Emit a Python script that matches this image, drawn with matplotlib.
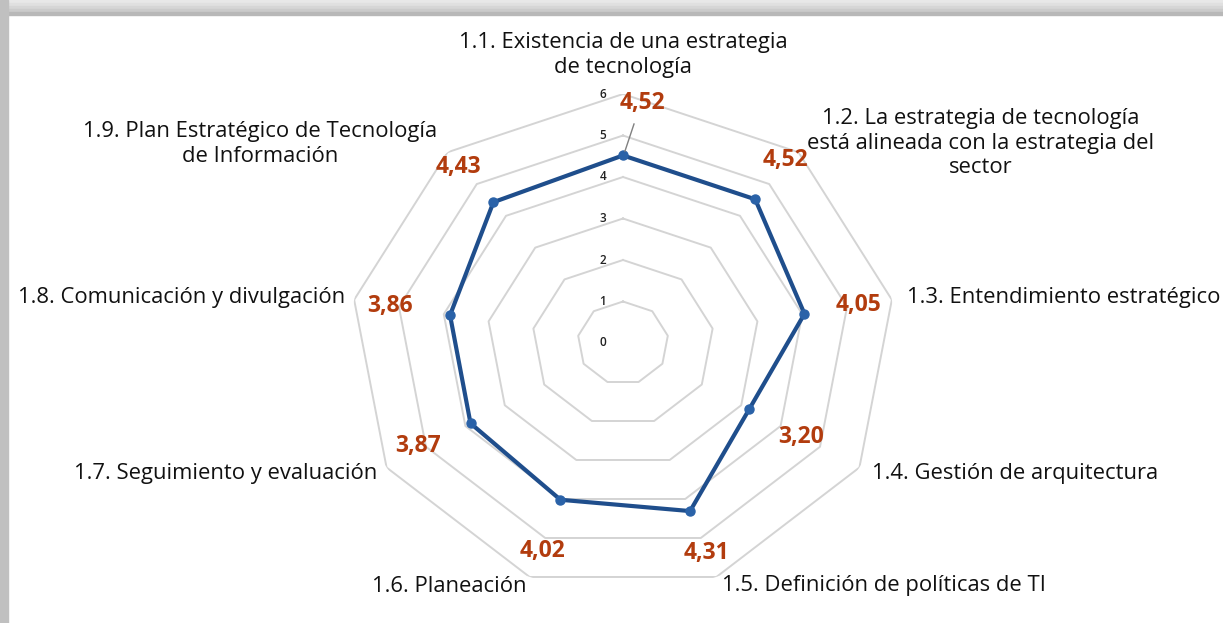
import numpy as np
import matplotlib.pyplot as plt
from matplotlib.patches import Rectangle

categories = [
    "1.1. Existencia de una estrategia\nde tecnología",
    "1.2. La estrategia de tecnología\nestá alineada con la estrategia del\nsector",
    "1.3. Entendimiento estratégico",
    "1.4. Gestión de arquitectura",
    "1.5. Definición de políticas de TI",
    "1.6. Planeación",
    "1.7. Seguimiento y evaluación",
    "1.8. Comunicación y divulgación",
    "1.9. Plan Estratégico de Tecnología\nde Información",
]
values = [4.52, 4.52, 4.05, 3.20, 4.31, 4.02, 3.87, 3.86, 4.43]
ticks = [0, 1, 2, 3, 4, 5, 6]

W, H = 1223, 623
plt.rcParams["font.family"] = ["Open Sans", "DejaVu Sans"]

fig = plt.figure(figsize=(W / 100, H / 100), dpi=100)

# screenshot frame (gray shadow at top and left)
for i, c in enumerate(["#e8e8e8", "#e0e0e0", "#d6d6d6", "#cbcbcb", "#b8b8b8"]):
    fig.patches.append(Rectangle((0, 1 - (i + 1) * 3 / H), 1, 3 / H, transform=fig.transFigure,
                                 color=c, zorder=0))
fig.patches.append(Rectangle((0, 0), 8 / W, 1, transform=fig.transFigure, color="#c0c0c0", zorder=0))

# the reference is slightly stretched horizontally
cx, cy, rx, ry = 623, 343, 273, 249
ax = fig.add_axes([(cx - rx) / W, (H - cy - ry) / H, 2 * rx / W, 2 * ry / H], projection="polar")
ax.set_aspect("auto")
ax.set_theta_offset(np.pi / 2)
ax.set_theta_direction(-1)
ax.set_ylim(0, 6)
ax.axis("off")

n = len(values)
angles = np.linspace(0, 2 * np.pi, n, endpoint=False)
ang_closed = np.append(angles, angles[0])

# polygon grid rings
for t in ticks[1:]:
    ax.plot(ang_closed, [t] * (n + 1), color="#d4d4d4", lw=1.4, zorder=1)
for t in ticks:
    ax.annotate(str(t), xy=(0, t), xytext=(-20, 0), textcoords="offset pixels",
                fontsize=8.5, ha="center", va="center", color="#222222", fontweight="semibold")

vals_closed = values + values[:1]
ax.plot(ang_closed, vals_closed, color="#1f4e8c", lw=3, zorder=3)
ax.plot(angles, values, "o", color="#2a62a8", ms=6.5, zorder=4)

# category labels (pixel positions of the reference layout)
cat_pos = [
    (623, 55, "center"),
    (981, 143, "center"),
    (907, 298, "left"),
    (872, 473, "left"),
    (722, 585, "left"),
    (526, 587, "right"),
    (377, 473, "right"),
    (345, 298, "right"),
    (260, 144, "center"),
]
for lab, (x, y, ha) in zip(categories, cat_pos):
    fig.text(x / W, 1 - y / H, lab, ha=ha, va="center", fontsize=15.8, color="#111111",
             linespacing=1.2)

# value labels
val_pos = [(642, 103), (785, 160), (859, 305), (801, 437), (706, 553),
           (542, 551), (418, 446), (390, 306), (458, 167)]
for v, (x, y) in zip(values, val_pos):
    fig.text(x / W, 1 - y / H, f"{v:.2f}".replace(".", ","), ha="center", va="center",
             fontsize=16.5, fontweight="bold", color="#b23c0e")

# leader line for the first label
fig.add_artist(plt.Line2D([625 / W, 634 / W], [1 - 151 / H, 1 - 124 / H], color="#808080", lw=1))

fig.savefig("out.png", dpi=100)
